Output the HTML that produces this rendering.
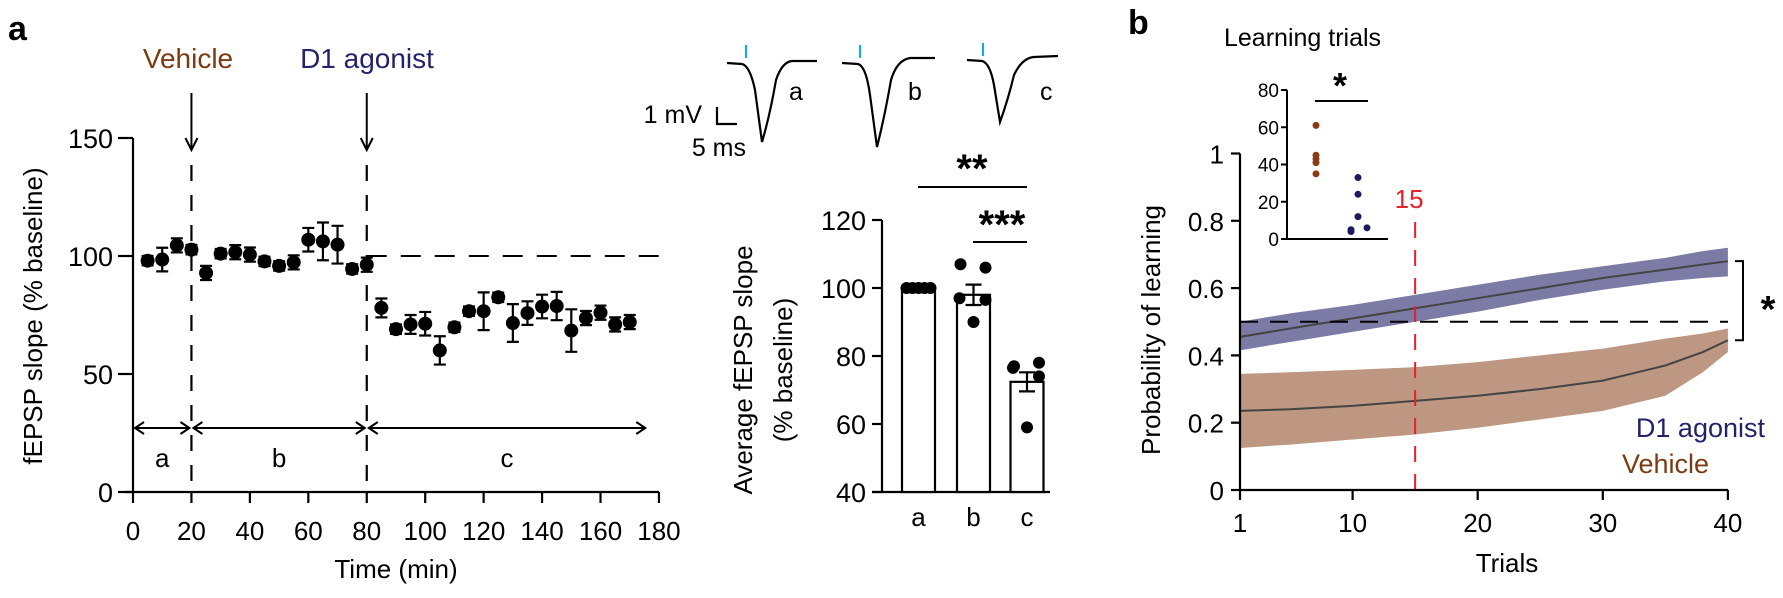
<!DOCTYPE html>
<html><head><meta charset="utf-8"><style>
html,body{margin:0;padding:0;background:#fff;}
svg{display:block;font-family:"Liberation Sans",Arial,sans-serif;}
</style></head><body>
<svg id="fig" width="1783" height="598" viewBox="0 0 1783 598" xmlns="http://www.w3.org/2000/svg">
<g id="pa">
<text x="8" y="40" font-size="34" font-weight="bold">a</text>
<text x="188" y="68" font-size="28" fill="#7a3b12" text-anchor="middle">Vehicle</text>
<text x="367" y="68" font-size="28" fill="#23226b" text-anchor="middle">D1 agonist</text>
<text transform="translate(42,316) rotate(-90)" font-size="26" text-anchor="middle">fEPSP slope (% baseline)</text>
<text x="396" y="578" font-size="26" text-anchor="middle">Time (min)</text>
<g id="tc"></g>
</g>
<g id="traces" fill="none" stroke="#000" stroke-width="2.2">
<path d="M727 63 L742 64 Q750 66 755 90 L762 142 Q770 115 776 80 Q782 62 792 61 L817 61"/>
<path d="M842 63 L858 64 Q866 66 870 95 L877 147 Q885 115 891 80 Q897 60 910 58 L935 58"/>
<path d="M967 60 L982 61 Q990 63 994 85 L1000 122 Q1008 100 1014 75 Q1022 58 1034 57 L1058 56"/>
<path d="M717 107 L717 124 L737 124"/>
<g stroke="#1ba6e0" stroke-width="2.2"><line x1="746" y1="45" x2="746" y2="58"/><line x1="860" y1="45" x2="860" y2="58"/><line x1="983" y1="43" x2="983" y2="56"/></g>
</g>
<g font-size="25">
<text x="789" y="100">a</text>
<text x="908" y="100">b</text>
<text x="1040" y="100">c</text>
<text x="702" y="123" text-anchor="end">1 mV</text>
<text x="746" y="156" text-anchor="end">5 ms</text>
</g>
<g id="bars">
<text transform="translate(752,370) rotate(-90)" font-size="26" text-anchor="middle">Average fEPSP slope</text>
<text transform="translate(792,370) rotate(-90)" font-size="26" text-anchor="middle">(% baseline)</text>
</g>
<g id="pb">
<text x="1128" y="34" font-size="34" font-weight="bold">b</text>
<text x="1224" y="46" font-size="25">Learning trials</text>
<text transform="translate(1160,330) rotate(-90)" font-size="26" text-anchor="middle">Probability of learning</text>
<text x="1507" y="572" font-size="26" text-anchor="middle">Trials</text>
<text x="1765" y="437" font-size="27" fill="#23226b" text-anchor="end">D1 agonist</text>
<text x="1622" y="473" font-size="27" fill="#7a3b12">Vehicle</text>
<g id="lc"></g>
</g>
</svg>
<script>
// ---- time course data ----
const tcTimes=[5,10,15,20,25,30,35,40,45,50,55,60,65,70,75,80,85,90,95,100,105,110,115,120,125,130,135,140,145,150,155,160,165,170];
const tcValues=[98,98.5,104.5,102.7,92.8,101,101.6,100.6,97.7,95.8,97.3,106.9,106.2,104.8,94.5,96.3,78,69,71,71.3,60,69.8,76.6,76.6,82.5,71.6,75.8,78.6,78.8,68.4,73.7,76,71,72];
const tcErrors=[2,5,3,2,3,2,3,3,2,2,3,5,8,8,2,3,4,2,4,5,6,2,2,8,2,8,5,5,6,9,3,3,3,3];
const tcYTicks=[0,50,100,150];
const tcXTicks=[0,20,40,60,80,100,120,140,160,180];
// ---- bar data ----
const barCats=['a','b','c'];
const barMeans=[100,98,72.4];
const barSEM=[0,3,2.8];
const barDots=[[100,100,100,100,100],[107,106,97,96.5,90],[77,78,76.5,74,59]];
const barYTicks=[40,60,80,100,120];
// ---- learning curve data ----
const lcTrials=[1,5,10,15,20,25,30,35,38,40];
const d1Mean=[0.455,0.48,0.51,0.54,0.57,0.60,0.63,0.655,0.67,0.68];
const d1Hi=[0.50,0.525,0.55,0.58,0.61,0.64,0.665,0.69,0.71,0.72];
const d1Lo=[0.415,0.44,0.47,0.50,0.53,0.565,0.595,0.62,0.63,0.635];
const vhMean=[0.235,0.24,0.25,0.265,0.28,0.30,0.325,0.37,0.41,0.445];
const vhHi=[0.345,0.35,0.357,0.365,0.38,0.40,0.42,0.45,0.465,0.48];
const vhLo=[0.125,0.135,0.15,0.165,0.185,0.21,0.235,0.28,0.35,0.41];
const lcYTicks=[0,0.2,0.4,0.6,0.8,1];
const lcYLabels=['0','0.2','0.4','0.6','0.8','1'];
const lcXTicks=[1,10,20,30,40];
const insetVehicle=[61,45,43,41,35];
const insetD1=[33,24,12,5,6,4];
const insetYTicks=[0,20,40,60,80];

const NS='http://www.w3.org/2000/svg';
function mk(parent,tag,attrs){const e=document.createElementNS(NS,tag);for(const k in attrs)e.setAttribute(k,attrs[k]);parent.appendChild(e);return e;}

// time course
const tc=document.getElementById('tc');
const tx=t=>133+t*2.922, ty=v=>492-v*2.36;
let e;
e=mk(tc,'line',{x1:133,y1:ty(150),x2:133,y2:492,stroke:'#000','stroke-width':2.2});

e=mk(tc,'line',{x1:125,y1:492,x2:tx(180),y2:492,stroke:'#000','stroke-width':2.2});

tcYTicks.forEach(v=>{
 e=mk(tc,'line',{x1:118,y1:ty(v),x2:133,y2:ty(v),stroke:'#000','stroke-width':2.2});
 
 e=mk(tc,'text',{x:113,y:ty(v)+10,'font-size':27,'text-anchor':'end'});e.textContent=v;
 
});
tcXTicks.forEach(v=>{
 e=mk(tc,'line',{x1:tx(v),y1:492,x2:tx(v),y2:503,stroke:'#000','stroke-width':2.2});
 
 e=mk(tc,'text',{x:tx(v),y:540,'font-size':26,'text-anchor':'middle'});e.textContent=v;
 
});
[20,80].forEach(t=>{
 e=mk(tc,'line',{x1:tx(t),y1:165,x2:tx(t),y2:492,stroke:'#000','stroke-width':2.2,'stroke-dasharray':'16,14'});
 
 e=mk(tc,'line',{x1:tx(t),y1:93,x2:tx(t),y2:148,stroke:'#000','stroke-width':2});
 
 e=mk(tc,'path',{d:`M${tx(t)-6} 138 L${tx(t)} 150 L${tx(t)+6} 138`,fill:'none',stroke:'#000','stroke-width':2});
 
});
e=mk(tc,'line',{x1:tx(80),y1:ty(100),x2:tx(180),y2:ty(100),stroke:'#000','stroke-width':2,'stroke-dasharray':'20,14'});

[[0,20,'a'],[20,80,'b'],[80,176,'c']].forEach(s=>{
 const x1=tx(s[0])+2,x2=tx(s[1])-2,y=428;
 e=mk(tc,'path',{d:`M${x1} ${y} L${x2} ${y} M${x1+9} ${y-6} L${x1} ${y} L${x1+9} ${y+6} M${x2-9} ${y-6} L${x2} ${y} L${x2-9} ${y+6}`,fill:'none',stroke:'#000','stroke-width':2});
 
 e=mk(tc,'text',{x:(x1+x2)/2,y:467,'font-size':26,'text-anchor':'middle'});e.textContent=s[2];
 
});
tcTimes.forEach((t,i)=>{
 const x=tx(t),y=ty(tcValues[i]),hi=ty(tcValues[i]+tcErrors[i]),lo=ty(tcValues[i]-tcErrors[i]);
 e=mk(tc,'path',{d:`M${x} ${hi} L${x} ${lo} M${x-6} ${hi} L${x+6} ${hi} M${x-6} ${lo} L${x+6} ${lo}`,stroke:'#000','stroke-width':2.2,fill:'none'});
 
 e=mk(tc,'circle',{cx:x,cy:y,r:7,fill:'#000'});
 
});

// bars
const bg=document.getElementById('bars');
const by=v=>492-(v-40)*3.4;
const bx=[918.5,973.5,1027];
e=mk(bg,'line',{x1:882,y1:by(120),x2:882,y2:492,stroke:'#000','stroke-width':2.2});

e=mk(bg,'line',{x1:872,y1:492,x2:1050,y2:492,stroke:'#000','stroke-width':2.2});

barYTicks.forEach(v=>{
 e=mk(bg,'line',{x1:872,y1:by(v),x2:882,y2:by(v),stroke:'#000','stroke-width':2.2});
 
 e=mk(bg,'text',{x:866,y:by(v)+10,'font-size':27,'text-anchor':'end'});e.textContent=v;
 
});
barCats.forEach((c,i)=>{
 const x=bx[i];
 e=mk(bg,'rect',{x:x-16.5,y:by(barMeans[i]),width:33,height:492-by(barMeans[i]),fill:'#fff',stroke:'#000','stroke-width':2.2});
 
 if(barSEM[i]>0){
  const hi=by(barMeans[i]+barSEM[i]),lo=by(barMeans[i]-barSEM[i]);
  e=mk(bg,'path',{d:`M${x} ${hi} L${x} ${lo} M${x-8} ${hi} L${x+8} ${hi} M${x-8} ${lo} L${x+8} ${lo}`,stroke:'#000','stroke-width':2.2,fill:'none'});
  
 }
 const offs=i===0?[-12,-6,0,6,12]:[-13,12,-14,12,0];
 barDots[i].forEach((v,j)=>{
  e=mk(bg,'circle',{cx:x+offs[j],cy:by(v),r:6,fill:'#000'});
  
 });
 e=mk(bg,'text',{x:x,y:526,'font-size':26,'text-anchor':'middle'});e.textContent=c;
 
});
e=mk(bg,'line',{x1:918,y1:187,x2:1027,y2:187,stroke:'#000','stroke-width':2});

e=mk(bg,'text',{x:972,y:182,'font-size':40,'font-weight':'bold','text-anchor':'middle'});e.textContent='**';

e=mk(bg,'line',{x1:973,y1:242,x2:1027,y2:242,stroke:'#000','stroke-width':2});

e=mk(bg,'text',{x:1002,y:238,'font-size':40,'font-weight':'bold','text-anchor':'middle'});e.textContent='***';


// learning curve
const lc=document.getElementById('lc');
const lx=t=>1240+(t-1)*12.51, ly=p=>490-p*336.5;
function band(hi,lo,fill,name){
 let d='M'+lcTrials.map((t,i)=>lx(t)+' '+ly(hi[i])).join(' L');
 d+=' L'+lcTrials.slice().reverse().map((t,k)=>lx(t)+' '+ly(lo[lcTrials.length-1-k])).join(' L')+' Z';
 const b=mk(lc,'path',{d:d,fill:fill});
 
}
function line(m,name){
 const l=mk(lc,'path',{d:'M'+lcTrials.map((t,i)=>lx(t)+' '+ly(m[i])).join(' L'),fill:'none',stroke:'#444','stroke-width':2});
 
}
band(vhHi,vhLo,'#bd9781','vehicle-band');
band(d1Hi,d1Lo,'#7c7ba6','d1-band');
line(vhMean,'vehicle-mean-line');
line(d1Mean,'d1-mean-line');
e=mk(lc,'line',{x1:1240,y1:ly(0.5),x2:1728,y2:ly(0.5),stroke:'#000','stroke-width':2,'stroke-dasharray':'18,12'});

e=mk(lc,'line',{x1:lx(15),y1:222,x2:lx(15),y2:490,stroke:'#e8202a','stroke-width':2,'stroke-dasharray':'16,12'});

e=mk(lc,'text',{x:lx(15)-6,y:208,'font-size':26,fill:'#e8202a','text-anchor':'middle'});e.textContent='15';

e=mk(lc,'line',{x1:1240,y1:ly(1),x2:1240,y2:490,stroke:'#000','stroke-width':2.2});

e=mk(lc,'line',{x1:1240,y1:490,x2:1728,y2:490,stroke:'#000','stroke-width':2.2});

lcYTicks.forEach((v,i)=>{
 e=mk(lc,'line',{x1:1231,y1:ly(v),x2:1240,y2:ly(v),stroke:'#000','stroke-width':2.2});
 
 e=mk(lc,'text',{x:1224,y:ly(v)+10,'font-size':26,'text-anchor':'end'});e.textContent=lcYLabels[i];
 
});
lcXTicks.forEach(v=>{
 e=mk(lc,'line',{x1:lx(v),y1:490,x2:lx(v),y2:500,stroke:'#000','stroke-width':2.2});
 
 e=mk(lc,'text',{x:lx(v),y:532,'font-size':26,'text-anchor':'middle'});e.textContent=v;
 
});
e=mk(lc,'path',{d:`M1735 ${ly(0.68)} L1743 ${ly(0.68)} L1743 ${ly(0.445)} L1735 ${ly(0.445)}`,fill:'none',stroke:'#000','stroke-width':2});

e=mk(lc,'text',{x:1768,y:322,'font-size':38,'font-weight':'bold','text-anchor':'middle'});e.textContent='*';

// inset
const iy=v=>239-v*1.8625;
e=mk(lc,'line',{x1:1287,y1:iy(80),x2:1287,y2:239,stroke:'#000','stroke-width':2});

e=mk(lc,'line',{x1:1287,y1:239,x2:1388,y2:239,stroke:'#000','stroke-width':2});

insetYTicks.forEach(v=>{
 e=mk(lc,'line',{x1:1281,y1:iy(v),x2:1287,y2:iy(v),stroke:'#000','stroke-width':2});
 
 e=mk(lc,'text',{x:1279,y:iy(v)+7,'font-size':19,'text-anchor':'end'});e.textContent=v;
 
});
insetVehicle.forEach(v=>{
 e=mk(lc,'circle',{cx:1316,cy:iy(v),r:3.5,fill:'#8a3d14'});
 
});
const d1x=[1358,1358,1358,1351,1367,1351];
insetD1.forEach((v,i)=>{
 e=mk(lc,'circle',{cx:d1x[i],cy:iy(v),r:3.5,fill:'#1b1a5e'});
 
});
e=mk(lc,'line',{x1:1315,y1:101,x2:1368,y2:101,stroke:'#000','stroke-width':2});

e=mk(lc,'text',{x:1340,y:98,'font-size':36,'font-weight':'bold','text-anchor':'middle'});e.textContent='*';

</script>
</body></html>
